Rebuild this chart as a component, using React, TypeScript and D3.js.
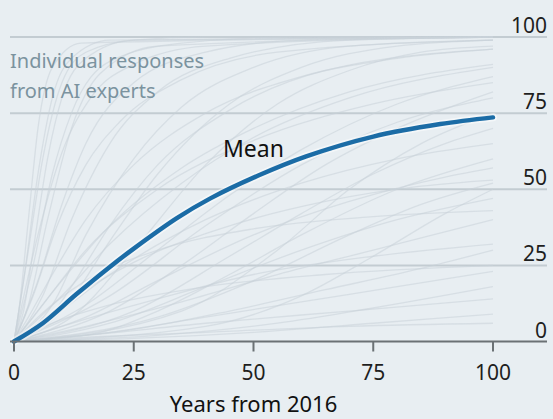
import * as d3 from "d3";

const W = 553;
const H = 419;

// years from 2016 and % probability
const meanLine: [number, number][] = [
  [0, 0], [6, 6], [13, 15.5], [20, 24.5], [25, 30.5], [34, 40.5], [41, 47],
  [51, 54.5], [61, 60.8], [75, 67.3], [89, 71.4], [100, 73.6],
];

const responses: [number, number][][] = [
  [[0, 0], [3, 30], [6, 60], [10, 85], [15, 95], [25, 99], [40, 100], [100, 100]],
  [[0, 0], [4, 25], [8, 55], [12, 75], [20, 92], [35, 98], [60, 100], [100, 100]],
  [[0, 0], [5, 20], [10, 45], [15, 65], [25, 85], [40, 95], [60, 99], [100, 100]],
  [[0, 0], [2, 20], [5, 55], [8, 80], [12, 93], [20, 99], [100, 100]],
  [[0, 0], [6, 15], [12, 40], [20, 65], [30, 82], [45, 93], [70, 99], [100, 100]],
  [[0, 0], [8, 12], [15, 35], [25, 60], [35, 77], [50, 90], [70, 97], [100, 99]],
  [[0, 0], [10, 10], [20, 33], [30, 55], [45, 78], [60, 90], [80, 97], [100, 99]],
  [[0, 0], [3, 12], [7, 40], [12, 70], [18, 88], [30, 97], [100, 100]],
  [[0, 0], [12, 8], [25, 30], [40, 58], [55, 78], [70, 89], [85, 95], [100, 97]],
  [[0, 0], [5, 35], [10, 62], [16, 80], [25, 91], [40, 97], [100, 100]],
  [[0, 0], [10, 15], [20, 32], [35, 52], [50, 67], [70, 80], [100, 90]],
  [[0, 0], [15, 12], [30, 30], [45, 48], [60, 63], [80, 78], [100, 87]],
  [[0, 0], [5, 10], [15, 30], [30, 50], [50, 66], [75, 78], [100, 85]],
  [[0, 0], [20, 10], [35, 25], [50, 42], [65, 58], [80, 70], [100, 82]],
  [[0, 0], [10, 20], [20, 38], [35, 57], [50, 70], [70, 82], [100, 91]],
  [[0, 0], [25, 10], [45, 28], [60, 42], [75, 55], [90, 65], [100, 70]],
  [[0, 0], [8, 8], [20, 22], [40, 40], [60, 52], [80, 60], [100, 65]],
  [[0, 0], [15, 8], [30, 20], [50, 35], [70, 46], [90, 54], [100, 57]],
  [[0, 0], [10, 12], [25, 26], [45, 38], [65, 46], [85, 51], [100, 53]],
  [[0, 0], [30, 8], [50, 20], [70, 35], [85, 45], [100, 52]],
  [[0, 0], [20, 6], [40, 18], [60, 30], [80, 40], [100, 47]],
  [[0, 0], [5, 8], [15, 20], [30, 30], [50, 37], [75, 41], [100, 43]],
  [[0, 0], [15, 5], [35, 13], [55, 22], [75, 30], [100, 40]],
  [[0, 0], [10, 5], [30, 14], [50, 22], [75, 28], [100, 32]],
  [[0, 0], [25, 4], [45, 10], [65, 17], [85, 24], [100, 30]],
  [[0, 0], [5, 4], [20, 12], [40, 18], [65, 22], [100, 25]],
  [[0, 0], [20, 3], [40, 8], [60, 13], [80, 18], [100, 23]],
  [[0, 0], [30, 2], [55, 6], [75, 11], [100, 18]],
  [[0, 0], [15, 2], [40, 6], [70, 10], [100, 14]],
  [[0, 0], [25, 1], [50, 3], [75, 6], [100, 9]],
  [[0, 0], [10, 1], [40, 3], [70, 5], [100, 6]],
  [[0, 0], [3, 8], [8, 22], [15, 40], [25, 58], [40, 75], [60, 87], [80, 93], [100, 96]],
  [[0, 0], [2, 10], [4, 30], [7, 60], [10, 80], [15, 93], [25, 99], [100, 100]],
  [[0, 0], [1, 10], [3, 40], [5, 70], [8, 90], [14, 98], [100, 100]],
  [[0, 0], [6, 5], [12, 18], [20, 38], [30, 58], [45, 76], [65, 89], [100, 96]],
  [[0, 0], [40, 5], [60, 15], [75, 28], [90, 42], [100, 50]],
  [[0, 0], [35, 10], [55, 30], [70, 50], [85, 65], [100, 75]],
  [[0, 0], [20, 15], [40, 38], [60, 58], [80, 72], [100, 80]],
  [[0, 0], [18, 3], [30, 10], [45, 22], [60, 35], [80, 50], [100, 60]],
  [[0, 0], [4, 15], [9, 38], [15, 58], [22, 72], [35, 86], [55, 95], [100, 99]],
];

const xTicks = [0, 25, 50, 75, 100];
const yTicks = [0, 25, 50, 75, 100];

const font = "'Noto Sans', 'Open Sans', sans-serif";

export default function App() {
  const x = d3.scaleLinear().domain([0, 100]).range([14, 493]);
  const y = d3.scaleLinear().domain([0, 100]).range([341.5, 37]);
  const thin = d3
    .line<[number, number]>()
    .x((d) => x(d[0]))
    .y((d) => y(d[1]))
    .curve(d3.curveMonotoneX);
  const smooth = d3
    .line<[number, number]>()
    .x((d) => x(d[0]))
    .y((d) => y(d[1]))
    .curve(d3.curveCatmullRom.alpha(0.5));

  return (
    <svg
      width={W}
      height={H}
      style={{ position: "absolute", left: 0, top: 0, display: "block" }}
    >
      <rect width={W} height={H} fill="#e8eef2" />

      {yTicks.slice(1).map((t) => (
        <line key={t} x1={10} x2={547} y1={y(t)} y2={y(t)} stroke="#c3ccd2" strokeWidth={2} />
      ))}

      <g fill="none" stroke="#c8d2d9" strokeWidth={1.3} strokeOpacity={0.55}>
        {responses.map((r, i) => (
          <path key={i} d={thin(r) ?? ""} />
        ))}
      </g>

      <text x={10} y={68} fontFamily={font} fontSize={20} fill="#7b939f">
        Individual responses
      </text>
      <text x={10} y={98} fontFamily={font} fontSize={20} fill="#7b939f">
        from AI experts
      </text>

      <path d={smooth(meanLine) ?? ""} fill="none" stroke="#ffffff" strokeOpacity={0.5} strokeWidth={8} strokeLinecap="round" />
      <path d={smooth(meanLine) ?? ""} fill="none" stroke="#1b6ca6" strokeWidth={4.5} strokeLinecap="round" />
      <text x={223} y={157} fontFamily={font} fontSize={23} fill="#111">
        Mean
      </text>

      <line x1={10} x2={547} y1={y(0)} y2={y(0)} stroke="#6b7175" strokeWidth={2} />
      {xTicks.map((t) => (
        <g key={t}>
          <line x1={x(t)} x2={x(t)} y1={y(0)} y2={y(0) + 10} stroke="#6b7175" strokeWidth={2} />
          <text x={x(t)} y={380} textAnchor="middle" fontFamily={font} fontSize={21} fill="#1e1e1e">
            {t}
          </text>
        </g>
      ))}
      {yTicks.map((t) => (
        <text key={t} x={547} y={y(t) - 4} textAnchor="end" fontFamily={font} fontSize={21} fill="#1e1e1e">
          {t}
        </text>
      ))}

      <text x={x(50)} y={412} textAnchor="middle" fontFamily={font} fontSize={22} fill="#111">
        Years from 2016
      </text>
    </svg>
  );
}
